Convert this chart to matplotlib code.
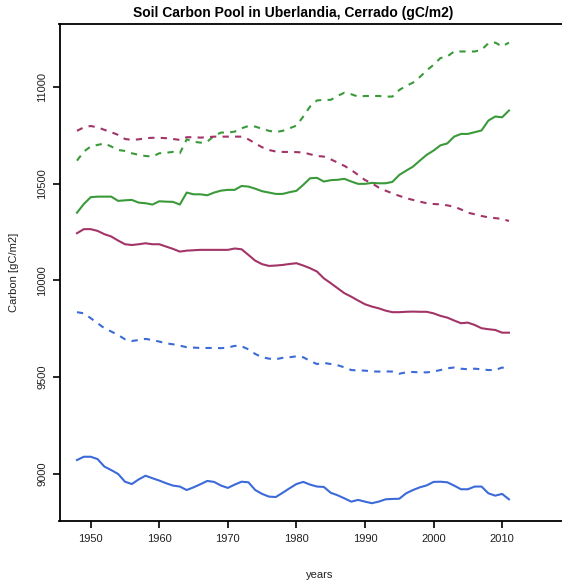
import numpy as np
import matplotlib
matplotlib.use("Agg")
import matplotlib.pyplot as plt

years = np.arange(1948, 2012)

blue_solid = [9072, 9089, 9089, 9077, 9038, 9020, 9000, 8960, 8948, 8972,
              8991, 8978, 8966, 8952, 8940, 8935, 8917, 8931, 8947, 8964,
              8959, 8940, 8928, 8945, 8960, 8957, 8917, 8897, 8883, 8881,
              8903, 8926, 8948, 8959, 8945, 8935, 8933, 8903, 8890, 8874,
              8857, 8866, 8857, 8849, 8857, 8869, 8871, 8872, 8900, 8917,
              8931, 8941, 8959, 8960, 8957, 8940, 8921, 8921, 8935, 8935,
              8900, 8888, 8897, 8869]
blue_dash = [9836, 9830, 9805, 9779, 9753, 9736, 9718, 9696, 9687, 9692,
             9698, 9692, 9684, 9675, 9670, 9663, 9655, 9653, 9651, 9651,
             9651, 9650, 9653, 9662, 9660, 9644, 9620, 9603, 9596, 9593,
             9600, 9603, 9608, 9603, 9584, 9568, 9574, 9568, 9562, 9551,
             9537, 9535, 9534, 9530, 9529, 9530, 9529, 9518, 9525, 9527,
             9525, 9525, 9529, 9537, 9546, 9550, 9544, 9541, 9544, 9541,
             9537, 9537, 9550, 9541]
purple_solid = [10244, 10265, 10265, 10256, 10239, 10227, 10206, 10187, 10183, 10187,
                10192, 10187, 10187, 10175, 10163, 10149, 10154, 10156, 10158, 10158,
                10158, 10158, 10158, 10165, 10161, 10132, 10102, 10084, 10075, 10077,
                10080, 10085, 10089, 10077, 10063, 10046, 10011, 9986, 9960, 9934,
                9916, 9896, 9877, 9865, 9856, 9844, 9836, 9836, 9838, 9839,
                9838, 9838, 9830, 9817, 9808, 9793, 9779, 9782, 9770, 9753,
                9748, 9744, 9730, 9730]
purple_dash = [10773, 10791, 10798, 10791, 10778, 10766, 10752, 10731, 10726, 10729,
               10735, 10737, 10737, 10735, 10731, 10726, 10740, 10740, 10738, 10740,
               10743, 10743, 10743, 10743, 10743, 10729, 10708, 10688, 10674, 10666,
               10664, 10664, 10663, 10661, 10652, 10643, 10640, 10626, 10609, 10592,
               10571, 10545, 10519, 10502, 10480, 10464, 10450, 10437, 10425, 10416,
               10407, 10399, 10395, 10393, 10388, 10381, 10367, 10350, 10342, 10333,
               10326, 10322, 10318, 10307]
green_solid = [10350, 10395, 10430, 10433, 10433, 10433, 10411, 10414, 10416, 10402,
               10399, 10392, 10409, 10407, 10406, 10392, 10454, 10445, 10445, 10440,
               10454, 10464, 10468, 10468, 10488, 10485, 10474, 10461, 10454, 10447,
               10447, 10456, 10463, 10494, 10528, 10530, 10511, 10518, 10520, 10525,
               10511, 10499, 10499, 10504, 10502, 10502, 10509, 10545, 10567, 10588,
               10619, 10649, 10671, 10698, 10708, 10743, 10757, 10757, 10766, 10775,
               10826, 10847, 10843, 10878]
green_dash = [10619, 10666, 10692, 10700, 10708, 10692, 10674, 10669, 10657, 10649,
              10643, 10640, 10657, 10660, 10664, 10657, 10729, 10717, 10712, 10717,
              10747, 10764, 10764, 10769, 10786, 10798, 10795, 10783, 10773, 10767,
              10773, 10786, 10800, 10847, 10899, 10930, 10933, 10933, 10953, 10970,
              10962, 10950, 10953, 10953, 10953, 10950, 10950, 10984, 11005, 11022,
              11051, 11085, 11114, 11149, 11157, 11183, 11183, 11183, 11183, 11191,
              11226, 11229, 11209, 11229]

xticks = [1950, 1960, 1970, 1980, 1990, 2000, 2010]
yticks = [9000, 9500, 10000, 10500, 11000]

blue = "#3c6ad8"
green = "#3a9a3a"
purple = "#a33468"

plt.rcParams['font.family'] = ['Liberation Sans', 'DejaVu Sans']

fig = plt.figure(figsize=(5.62, 5.82), dpi=100)
ax = fig.add_axes([59.5 / 562, 61 / 582, (580 - 59.5) / 562, 497 / 582])

lw = 1.5
ax.plot(years, green_dash, color=green, lw=lw, dashes=(3, 3))
ax.plot(years, green_solid, color=green, lw=lw)
ax.plot(years, purple_dash, color=purple, lw=lw, dashes=(3, 3))
ax.plot(years, purple_solid, color=purple, lw=lw)
ax.plot(years, blue_dash, color=blue, lw=lw, dashes=(3, 3))
ax.plot(years, blue_solid, color=blue, lw=lw)

ax.set_xlim(1945.45, 2021.36)
ax.set_ylim(8757, 11325)
ax.set_xticks(xticks)
ax.set_yticks(yticks)
ax.set_yticklabels([str(v) for v in yticks], rotation=90, va='center')
ax.tick_params(direction='out', length=5, width=1.2, labelsize=8, pad=4,
               labelcolor='#222222')
for s in ax.spines.values():
    s.set_linewidth(1.3)

ax.set_title("Soil Carbon Pool in Uberlandia, Cerrado (gC/m2)",
             fontsize=10, fontweight='bold', x=(293 - 59.5) / (580 - 59.5), pad=5)
ax.set_xlabel("years", fontsize=8, labelpad=19, color='#222222')
ax.set_ylabel("Carbon [gC/m2]", fontsize=8, labelpad=13, color='#222222')

fig.savefig("out.png", dpi=100)
